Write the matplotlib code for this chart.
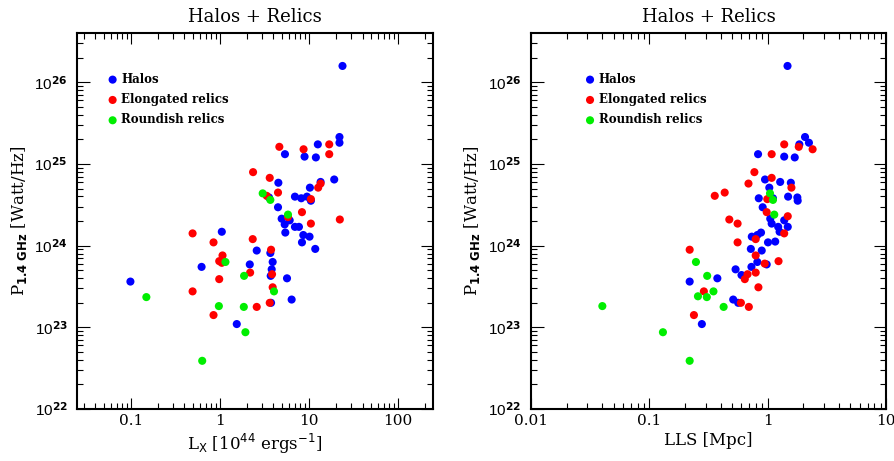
import numpy as np
import matplotlib
matplotlib.use("Agg")
import matplotlib.pyplot as plt
from matplotlib.ticker import FuncFormatter, LogLocator, NullFormatter

# ---------------------------------------------------
# Data (log10 values)
# ---------------------------------------------------

# left panel: log10 Lx [1e44 erg/s] vs log10 P1.4
halo_lx = [1.377, 1.343, 1.343, 1.10, 0.731, 0.951, 1.078, 1.284, 0.657, 1.131,
           1.011, 0.843, 0.914, 0.978, 1.022, 0.552, 0.653, 0.694, 0.728, 0.784,
           0.735, 0.843, 0.888, 0.937, 1.007, 0.922, 1.071, 0.022, -0.205, -1.004,
           0.414, 0.567, 0.593, 0.336, 0.582, 0.571, 0.754, 0.806, 0.575, 0.190]
halo_p_l = [26.20, 25.33, 25.26, 25.24, 25.12, 25.09, 25.08, 24.81, 24.77, 24.78,
            24.71, 24.60, 24.58, 24.60, 24.55, 24.59, 24.47, 24.33, 24.26, 24.31,
            24.16, 24.23, 24.23, 24.13, 24.11, 24.04, 23.96, 24.17, 23.74, 23.56,
            23.94, 23.91, 23.80, 23.77, 23.71, 23.63, 23.60, 23.34, 23.30, 23.04]

elong_lx = [0.668, 0.940, 1.228, 1.228, 0.373, 0.560, 0.653, 0.526, 1.022, 1.104,
            1.131, 0.922, 0.765, 1.022, 1.347, -0.306, -0.071, 0.369, 0.575, 0.030,
            -0.007, 0.022, 0.340, 0.586, -0.007, 0.593, -0.306, 0.414, 0.560, -0.071]
elong_p_l = [25.21, 25.18, 25.24, 25.12, 24.90, 24.83, 24.65, 24.61, 24.57, 24.71,
             24.76, 24.41, 24.35, 24.27, 24.32, 24.15, 24.04, 24.08, 23.95, 23.88,
             23.81, 23.79, 23.67, 23.65, 23.59, 23.49, 23.44, 23.25, 23.30, 23.15]

round_lx = [0.481, 0.567, 0.765, 0.063, 0.272, 0.608, -0.825, -0.011, 0.269, 0.287, -0.198]
round_p_l = [24.64, 24.56, 24.38, 23.80, 23.63, 23.44, 23.37, 23.26, 23.25, 22.94, 22.59]

# right panel: log10 LLS [Mpc] vs log10 P1.4
halo_lls = [0.168, 0.316, 0.349, 0.268, -0.081, 0.140, 0.229, -0.022, 0.106, 0.196,
            0.014, -0.075, 0.173, 0.251, 0.254, 0.045, -0.042, 0.022, 0.034, 0.089,
            0.101, 0.140, 0.170, -0.056, -0.134, -0.087, 0.003, 0.064, -0.142, -0.050,
            -0.087, -0.008, -0.137, -0.271, -0.221, -0.425, -0.659, -0.291, -0.249, -0.556]
halo_p_r = [26.20, 25.33, 25.26, 25.24, 25.12, 25.09, 25.08, 24.81, 24.78, 24.77,
            24.71, 24.58, 24.60, 24.59, 24.55, 24.58, 24.47, 24.33, 24.27, 24.23,
            24.17, 24.31, 24.23, 24.16, 24.11, 24.13, 24.04, 24.05, 23.96, 23.94,
            23.80, 23.77, 23.74, 23.71, 23.64, 23.60, 23.56, 23.34, 23.30, 23.04]

elong_lls = [0.140, 0.263, 0.380, 0.034, -0.112, 0.034, -0.162, 0.201, -0.447, -0.363,
             -0.003, -0.008, 0.170, -0.324, -0.254, 0.140, -0.101, -0.254, -0.659, -0.101,
             0.092, -0.025, -0.170, -0.101, -0.193, -0.078, -0.539, -0.226, -0.159, -0.623]
elong_p_r = [25.24, 25.21, 25.18, 25.12, 24.90, 24.83, 24.76, 24.71, 24.61, 24.65,
             24.57, 24.41, 24.36, 24.32, 24.27, 24.15, 24.08, 24.04, 23.95, 23.88,
             23.81, 23.78, 23.65, 23.67, 23.59, 23.49, 23.44, 23.30, 23.25, 23.15]

round_lls = [0.020, 0.045, 0.056, -0.606, -0.511, -0.458, -0.589, -0.514, -0.372, -1.397, -0.885, -0.659]
round_p_r = [24.64, 24.56, 24.38, 23.80, 23.63, 23.44, 23.38, 23.37, 23.25, 23.26, 22.94, 22.59]

# ---------------------------------------------------
# Figure
# ---------------------------------------------------

serif = "DejaVu Serif"
sans = "Liberation Sans"

fig = plt.figure(figsize=(8.95, 4.61), dpi=100)
ax1 = fig.add_axes([0.0864, 0.1128, 0.3971, 0.815])
ax2 = fig.add_axes([0.5933, 0.1128, 0.3966, 0.815])


def pow_fmt(v, pos):
    e = int(round(np.log10(v)))
    return r"$\mathregular{10^{\bf %d}}$" % e


def plain_fmt(v, pos):
    return "%g" % v


def style(ax, xlim, xlabel, legend_x):
    ax.set_xscale("log")
    ax.set_yscale("log")
    ax.set_xlim(*xlim)
    ax.set_ylim(1e22, 10 ** 26.6)
    for s in ax.spines.values():
        s.set_linewidth(1.5)
    ax.tick_params(which="both", direction="in", top=True, right=True, width=0.8)
    ax.tick_params(which="major", length=8)
    ax.tick_params(which="minor", length=4)
    ax.tick_params(axis="y", which="major", length=9, pad=7)
    ax.xaxis.set_major_locator(LogLocator(base=10, numticks=10))
    ax.xaxis.set_minor_locator(LogLocator(base=10, subs=np.arange(2, 10), numticks=10))
    ax.yaxis.set_major_locator(LogLocator(base=10, numticks=10))
    ax.yaxis.set_minor_locator(LogLocator(base=10, subs=np.arange(2, 10), numticks=10))
    ax.xaxis.set_major_formatter(FuncFormatter(plain_fmt))
    ax.xaxis.set_minor_formatter(NullFormatter())
    ax.yaxis.set_major_formatter(FuncFormatter(pow_fmt))
    ax.yaxis.set_minor_formatter(NullFormatter())
    for t in ax.get_xticklabels():
        t.set_fontfamily(serif)
        t.set_fontsize(11)
    for t in ax.get_yticklabels():
        t.set_fontfamily(sans)
        t.set_fontsize(11)
    ax.set_title("Halos + Relics", fontfamily=serif, fontsize=13, pad=8)
    ax.set_xlabel(xlabel, fontfamily=serif, fontsize=12, labelpad=3)
    ax.set_ylabel(r"P$_{\mathregular{\bf 1.4\ GHz}}$ [Watt/Hz]", fontfamily=serif,
                  fontsize=12, labelpad=4)
    ax.legend(loc="upper left", bbox_to_anchor=(legend_x, 0.895), frameon=False,
              borderpad=0, borderaxespad=0, handlelength=0.8, handletextpad=0.35,
              labelspacing=0.62, markerscale=1.0,
              prop={"family": serif, "weight": "bold", "size": 8.5})


ms = 34
ax1.scatter(10 ** np.array(halo_lx), 10 ** np.array(halo_p_l), s=ms, c="#0000ff",
            edgecolors="none", label="Halos")
ax1.scatter(10 ** np.array(elong_lx), 10 ** np.array(elong_p_l), s=ms, c="#ff0000",
            edgecolors="none", label="Elongated relics")
ax1.scatter(10 ** np.array(round_lx), 10 ** np.array(round_p_l), s=ms, c="#00ee00",
            edgecolors="none", label="Roundish relics")

ax2.scatter(10 ** np.array(halo_lls), 10 ** np.array(halo_p_r), s=ms, c="#0000ff",
            edgecolors="none", label="Halos")
ax2.scatter(10 ** np.array(elong_lls), 10 ** np.array(elong_p_r), s=ms, c="#ff0000",
            edgecolors="none", label="Elongated relics")
ax2.scatter(10 ** np.array(round_lls), 10 ** np.array(round_p_r), s=ms, c="#00ee00",
            edgecolors="none", label="Roundish relics")

style(ax1, (10 ** -1.6, 10 ** 2.39), r"L$_{\rm X}$ [10$^{44}$ ergs$^{-1}$]", 0.086)
style(ax2, (0.01, 10), "LLS [Mpc]", 0.153)

fig.savefig("out.png", dpi=100)
